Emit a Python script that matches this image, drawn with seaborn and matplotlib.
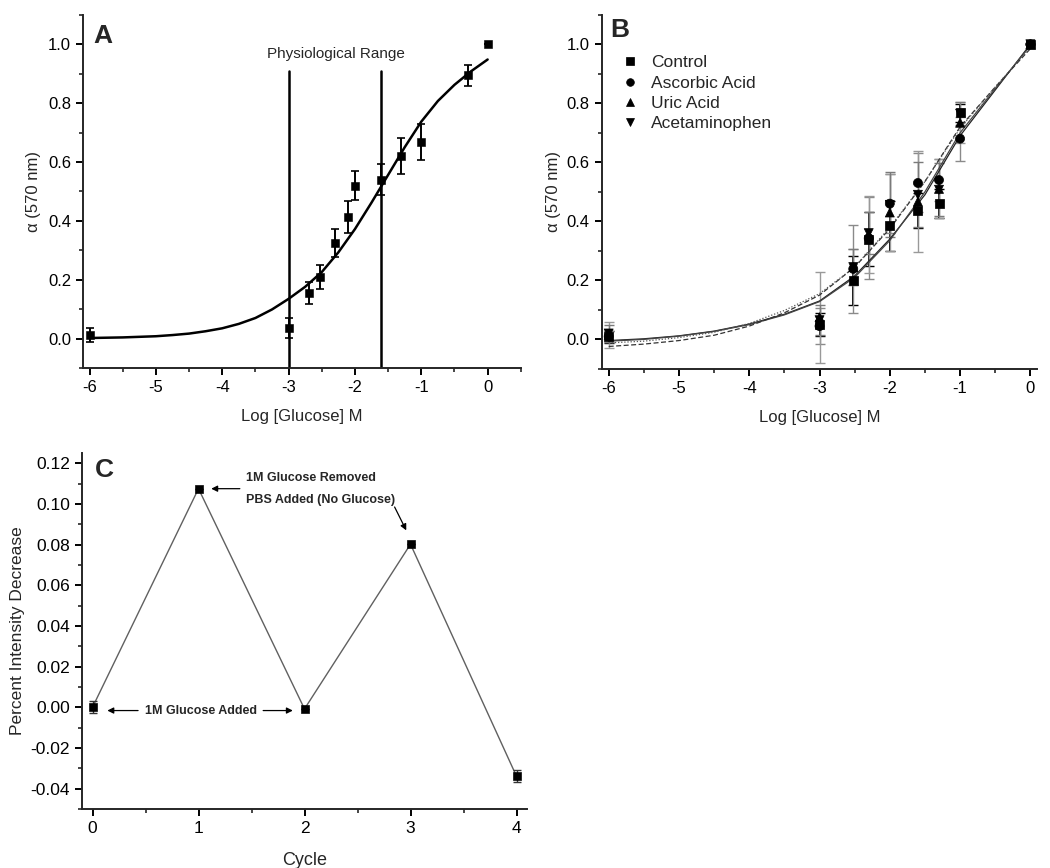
import numpy as np
import pandas as pd
import matplotlib
matplotlib.use("Agg")
import matplotlib.pyplot as plt
import seaborn as sns
from matplotlib.ticker import MultipleLocator

# ---- Panel A data ----
a_x = [-6, -3, -2.7, -2.52, -2.3, -2.1, -2.0, -1.6, -1.3, -1.0, -0.3, 0]
a_y = [0.013, 0.036, 0.155, 0.21, 0.324, 0.413, 0.52, 0.54, 0.62, 0.668, 0.894, 1.0]
a_err = [0.023, 0.035, 0.036, 0.04, 0.047, 0.055, 0.05, 0.052, 0.06, 0.062, 0.036, 0.0]
a_fit_x = [-6, -5.5, -5, -4.75, -4.5, -4.25, -4, -3.75, -3.5, -3.25, -3, -2.75, -2.5,
           -2.25, -2, -1.75, -1.5, -1.25, -1, -0.75, -0.5, -0.25, 0]
a_fit_y = [0.002, 0.004, 0.008, 0.012, 0.017, 0.025, 0.035, 0.05, 0.07, 0.099, 0.135,
           0.176, 0.226, 0.293, 0.372, 0.462, 0.556, 0.65, 0.737, 0.807, 0.862, 0.908, 0.948]
phys_range = [-3.0, -1.6]

# ---- Panel B data ----
b_x = [-6, -3, -2.52, -2.3, -2.0, -1.6, -1.3, -1.0, 0]
b_series = ["Control", "Ascorbic Acid", "Uric Acid", "Acetaminophen"]
b_control = [0.009, 0.05, 0.199, 0.34, 0.385, 0.437, 0.46, 0.768, 1.0]
b_ascorbic = [0.01, 0.045, 0.239, 0.343, 0.46, 0.53, 0.54, 0.68, 1.0]
b_uric = [0.015, 0.075, 0.245, 0.355, 0.43, 0.467, 0.51, 0.734, 1.0]
b_acet = [0.02, 0.065, 0.245, 0.36, 0.456, 0.49, 0.507, 0.765, 1.0]
b_control_err = [0.02, 0.04, 0.083, 0.09, 0.085, 0.06, 0.05, 0.03, 0.0]
b_ascorbic_err = [0.02, 0.06, 0.15, 0.14, 0.10, 0.10, 0.07, 0.075, 0.0]
b_uric_err = [0.045, 0.155, 0.06, 0.13, 0.13, 0.17, 0.10, 0.07, 0.0]
b_acet_err = [0.03, 0.05, 0.06, 0.07, 0.11, 0.11, 0.09, 0.04, 0.0]
b_fit_x = [-6, -5.5, -5, -4.5, -4, -3.5, -3, -2.5, -2, -1.5, -1, -0.5, 0]
b_fit_control = [-0.004, 0.002, 0.012, 0.028, 0.052, 0.085, 0.13, 0.215, 0.34, 0.49, 0.69, 0.845, 1.0]
b_fit_ascorbic = [-0.006, 0.0, 0.011, 0.027, 0.05, 0.083, 0.128, 0.21, 0.335, 0.50, 0.70, 0.85, 0.995]
b_fit_uric = [-0.024, -0.016, -0.004, 0.014, 0.045, 0.09, 0.15, 0.245, 0.375, 0.535, 0.72, 0.855, 0.985]
b_fit_acet = [-0.012, -0.006, 0.006, 0.024, 0.054, 0.098, 0.155, 0.245, 0.38, 0.535, 0.715, 0.855, 0.99]

# ---- Panel C data ----
c_cycle = [0, 1, 2, 3, 4]
c_val = [0.0, 0.1075, -0.0008, 0.0802, -0.0339]
c_err = [0.003, 0.0, 0.0, 0.0, 0.003]

sns.set_theme(style="ticks")
plt.rcParams['font.family'] = ['Liberation Sans', 'DejaVu Sans']
plt.rcParams.update({
    'axes.unicode_minus': False,
    'axes.linewidth': 1.4,
    'xtick.major.width': 1.4, 'ytick.major.width': 1.4,
    'xtick.minor.width': 1.2, 'ytick.minor.width': 1.2,
    'xtick.major.size': 5, 'ytick.major.size': 5,
    'xtick.minor.size': 3, 'ytick.minor.size': 3,
    'xtick.labelsize': 12, 'ytick.labelsize': 12,
})

fig = plt.figure(figsize=(10.5, 8.68), dpi=100)
axA = fig.add_axes([0.079, 0.576, 0.417, 0.407])
axB = fig.add_axes([0.573, 0.575, 0.415, 0.408])
axC = fig.add_axes([0.078, 0.068, 0.424, 0.410])

for ax in (axA, axB, axC):
    sns.despine(ax=ax)
    ax.tick_params(colors='black', labelcolor='black')

# ---- A ----
axA.errorbar(a_x, a_y, yerr=a_err, fmt='none', ecolor='black', elinewidth=1.4, capsize=3, capthick=1.2)
sns.scatterplot(x=a_x, y=a_y, marker='s', color='black', s=26, edgecolor='black', ax=axA, zorder=3)
sns.lineplot(x=a_fit_x, y=a_fit_y, color='black', lw=1.8, ax=axA, sort=True)
for xv in phys_range:
    axA.plot([xv, xv], [-0.1, 0.91], color='black', lw=1.8)
axA.text(-2.28, 0.965, "Physiological Range", ha='center', va='center', fontsize=11)
axA.set_xlim(-6.1, 0.5)
axA.set_ylim(-0.1, 1.1)
axA.xaxis.set_major_locator(MultipleLocator(1))
axA.xaxis.set_minor_locator(MultipleLocator(0.5))
axA.set_yticks([0, 0.2, 0.4, 0.6, 0.8, 1.0])
axA.yaxis.set_minor_locator(MultipleLocator(0.1))
axA.set_xlabel("Log [Glucose] M", fontsize=12, labelpad=10)
axA.set_ylabel("\u03b1 (570 nm)", fontsize=12, labelpad=5)
axA.text(0.023, 0.975, "A", transform=axA.transAxes, fontsize=19, fontweight='bold', va='top')

# ---- B ----
b_vals = [b_control, b_ascorbic, b_uric, b_acet]
b_errs = [b_control_err, b_ascorbic_err, b_uric_err, b_acet_err]
b_fits = [b_fit_control, b_fit_ascorbic, b_fit_uric, b_fit_acet]
b_markers = ['s', 'o', '^', 'v']
b_ecol = ['black', '#8a8a8a', '#999999', '#7a7a7a']
b_lines = ['-', '-', (0, (4, 2)), (0, (1, 1.5))]
b_lcol = ['#222222', '#444444', '#333333', '#555555']

for vals, errs, ec in zip(b_vals, b_errs, b_ecol):
    axB.errorbar(b_x, vals, yerr=errs, fmt='none', ecolor=ec,
                 elinewidth=1.4 if ec == 'black' else 1.0, capsize=3.5, capthick=1.0)
for fit, ls, lc in zip(b_fits, b_lines, b_lcol):
    axB.plot(b_fit_x, fit, color=lc, lw=0.9, linestyle=ls)

dfB = pd.DataFrame({
    'x': b_x * 4,
    'y': b_control + b_ascorbic + b_uric + b_acet,
    'Series': sum([[s] * len(b_x) for s in b_series], []),
})
sns.scatterplot(data=dfB, x='x', y='y', hue='Series', style='Series',
                palette=['black'] * 4, markers=b_markers, s=42, edgecolor='black',
                ax=axB, zorder=3)
leg = axB.legend(loc='upper left', bbox_to_anchor=(-0.01, 0.93), frameon=False,
                 fontsize=12.5, handletextpad=0.2, labelspacing=0.3, markerscale=0.85)
axB.set_xlim(-6.1, 0.1)
axB.set_ylim(-0.1, 1.1)
axB.xaxis.set_major_locator(MultipleLocator(1))
axB.xaxis.set_minor_locator(MultipleLocator(0.5))
axB.set_yticks([0, 0.2, 0.4, 0.6, 0.8, 1.0])
axB.yaxis.set_minor_locator(MultipleLocator(0.1))
axB.set_xlabel("Log [Glucose] M", fontsize=12, labelpad=10)
axB.set_ylabel("\u03b1 (570 nm)", fontsize=12, labelpad=4)
axB.text(0.02, 0.99, "B", transform=axB.transAxes, fontsize=19, fontweight='bold', va='top')

# ---- C ----
sns.lineplot(x=c_cycle, y=c_val, color='#606060', lw=1.0, ax=axC)
axC.errorbar(c_cycle, c_val, yerr=c_err, fmt='none', ecolor='#333333', elinewidth=1.0, capsize=3)
sns.scatterplot(x=c_cycle, y=c_val, marker='s', color='black', s=34, edgecolor='black', ax=axC, zorder=3)
axC.set_xlim(-0.1, 4.1)
axC.set_ylim(-0.05, 0.125)
axC.xaxis.set_major_locator(MultipleLocator(1))
axC.xaxis.set_minor_locator(MultipleLocator(0.5))
axC.set_yticks([-0.04, -0.02, 0.0, 0.02, 0.04, 0.06, 0.08, 0.10, 0.12])
axC.set_yticklabels(["-0.04", "-0.02", "0.00", "0.02", "0.04", "0.06", "0.08", "0.10", "0.12"])
axC.yaxis.set_minor_locator(MultipleLocator(0.01))
axC.tick_params(labelsize=12.5)
axC.set_xlabel("Cycle", fontsize=13, labelpad=12)
axC.set_ylabel("Percent Intensity Decrease", fontsize=12.5, labelpad=4)
axC.text(0.03, 0.985, "C", transform=axC.transAxes, fontsize=19, fontweight='bold', va='top')

arrow = dict(arrowstyle='-|>', color='black', lw=0.9, mutation_scale=9, shrinkA=0, shrinkB=0)
axC.annotate("", xy=(1.12, 0.1075), xytext=(1.39, 0.1075), arrowprops=arrow)
axC.text(1.45, 0.1128, "1M Glucose Removed", fontsize=9, fontweight='bold', va='center')
axC.text(1.45, 0.1017, "PBS Added (No Glucose)", fontsize=9, fontweight='bold', va='center')
axC.annotate("", xy=(2.96, 0.087), xytext=(2.85, 0.0985), arrowprops=arrow)
axC.text(1.02, -0.0016, "1M Glucose Added", fontsize=9, fontweight='bold', ha='center', va='center')
axC.annotate("", xy=(0.14, -0.0016), xytext=(0.43, -0.0016), arrowprops=arrow)
axC.annotate("", xy=(1.89, -0.0016), xytext=(1.61, -0.0016), arrowprops=arrow)

fig.savefig("out.png", dpi=100)
